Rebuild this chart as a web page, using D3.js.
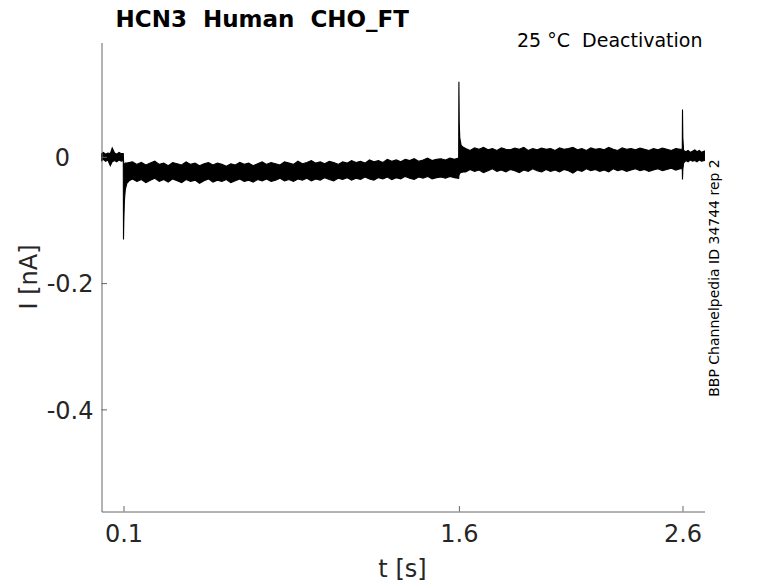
<!DOCTYPE html>
<html><head><meta charset="utf-8">
<script src="https://cdn.jsdelivr.net/npm/d3@7"></script>
<style>body{margin:0;background:#fff} svg text{font-family:"DejaVu Sans",sans-serif;fill:#262626;white-space:pre}</style>
</head><body>
<svg id="c" width="778" height="583"></svg>
<script>
// ---- data ----
const titleText = "HCN3  Human  CHO_FT";
const subtitleText = "25 \u00B0C  Deactivation";
const sideText = "BBP Channelpedia ID 34744 rep 2";
const xTicks = [0.1, 1.6, 2.6];
const yTicks = [0, -0.2, -0.4];
const xLabel = "t [s]";
const yLabel = "I [nA]";

// time stamps (s) of the trace envelope
const times = [
  0.002,0.01,0.02,0.03,0.041,0.0495,0.06,0.07,0.08,0.09,0.099,
  0.1,0.1015,0.104,0.108,0.115,0.125,
  0.14,0.16,0.18,0.20,0.22,0.24,0.26,0.28,0.30,0.32,
  0.34,0.36,0.38,0.40,0.42,0.44,0.46,0.48,0.50,0.52,
  0.54,0.56,0.58,0.60,0.62,0.64,0.66,0.68,0.70,0.72,
  0.74,0.76,0.78,0.80,0.82,0.84,0.86,0.88,0.90,0.92,
  0.94,0.96,0.98,1.00,1.02,1.04,1.06,1.08,1.10,1.12,
  1.14,1.16,1.18,1.20,1.22,1.24,1.26,1.28,1.30,1.32,
  1.34,1.36,1.38,1.40,1.42,1.44,1.46,1.48,1.50,1.52,
  1.54,1.56,1.58,1.599,
  1.6,1.6015,1.604,1.61,1.62,
  1.63,1.65,1.67,1.69,1.71,1.73,1.75,1.77,1.79,1.81,
  1.83,1.85,1.87,1.89,1.91,1.93,1.95,1.97,1.99,2.01,
  2.03,2.05,2.07,2.09,2.11,2.13,2.15,2.17,2.19,2.21,
  2.23,2.25,2.27,2.29,2.31,2.33,2.35,2.37,2.39,2.41,
  2.43,2.45,2.47,2.49,2.51,2.53,2.55,2.57,2.59,2.599,
  2.6,2.6015,2.605,2.615,2.625,2.635,2.645,2.655,2.665,2.675,2.685,2.698
];
// upper edge of the overlaid sweeps (nA)
const upper = [
  0.005,0.007,0.004,0.006,0.005,0.014,0.006,0.004,0.007,0.005,0.005,
  -0.004,-0.015,-0.012,-0.010,-0.010,-0.009,
  -0.008,-0.012,-0.009,-0.013,-0.010,-0.007,-0.012,-0.010,-0.014,-0.009,
  -0.011,-0.013,-0.008,-0.012,-0.010,-0.014,-0.011,-0.009,-0.013,-0.010,
  -0.012,-0.015,-0.011,-0.013,-0.009,-0.012,-0.010,-0.014,-0.011,-0.008,
  -0.012,-0.009,-0.011,-0.013,-0.008,-0.010,-0.012,-0.007,-0.011,-0.009,
  -0.006,-0.010,-0.008,-0.011,-0.007,-0.009,-0.012,-0.008,-0.010,-0.006,
  -0.009,-0.007,-0.010,-0.005,-0.008,-0.006,-0.009,-0.004,-0.007,-0.005,
  -0.008,-0.004,-0.006,-0.003,-0.007,-0.005,-0.002,-0.006,-0.004,-0.003,
  -0.005,-0.002,-0.004,-0.002,
  0.119,0.055,0.030,0.018,0.015,
  0.013,0.010,0.014,0.012,0.015,0.011,0.013,0.010,0.014,0.012,
  0.011,0.014,0.012,0.015,0.010,0.013,0.011,0.014,0.012,0.013,
  0.010,0.014,0.012,0.013,0.015,0.011,0.013,0.010,0.014,0.012,
  0.013,0.011,0.015,0.012,0.010,0.014,0.012,0.013,0.011,0.014,
  0.012,0.010,0.013,0.011,0.014,0.012,0.010,0.013,0.012,0.012,
  0.075,0.030,0.010,0.008,0.010,0.007,0.009,0.011,0.008,0.010,0.007,0.009
];
// lower edge of the overlaid sweeps (nA)
const lower = [
  -0.006,-0.004,-0.007,-0.005,-0.014,-0.008,-0.006,-0.008,-0.005,-0.007,-0.006,
  -0.131,-0.100,-0.070,-0.052,-0.042,-0.038,
  -0.035,-0.039,-0.036,-0.041,-0.037,-0.034,-0.039,-0.036,-0.040,-0.035,
  -0.038,-0.041,-0.036,-0.039,-0.037,-0.042,-0.038,-0.035,-0.040,-0.037,
  -0.039,-0.036,-0.041,-0.038,-0.035,-0.039,-0.037,-0.040,-0.036,-0.038,
  -0.035,-0.039,-0.037,-0.034,-0.038,-0.036,-0.039,-0.035,-0.037,-0.034,
  -0.038,-0.035,-0.037,-0.033,-0.036,-0.038,-0.034,-0.036,-0.033,-0.037,
  -0.034,-0.036,-0.032,-0.035,-0.037,-0.033,-0.035,-0.032,-0.036,-0.033,
  -0.035,-0.031,-0.034,-0.036,-0.032,-0.034,-0.031,-0.035,-0.033,-0.032,
  -0.034,-0.031,-0.033,-0.034,
  -0.030,-0.028,-0.026,-0.025,-0.024,
  -0.024,-0.020,-0.023,-0.021,-0.025,-0.022,-0.019,-0.023,-0.021,-0.024,
  -0.020,-0.022,-0.025,-0.021,-0.023,-0.019,-0.022,-0.024,-0.020,-0.023,
  -0.021,-0.024,-0.020,-0.022,-0.026,-0.021,-0.023,-0.019,-0.022,-0.020,
  -0.023,-0.021,-0.024,-0.019,-0.022,-0.020,-0.023,-0.021,-0.019,-0.022,
  -0.020,-0.023,-0.021,-0.019,-0.022,-0.020,-0.018,-0.021,-0.019,-0.019,
  -0.036,-0.020,-0.010,-0.006,-0.008,-0.005,-0.007,-0.006,-0.008,-0.005,-0.007,-0.006
];

// ---- drawing ----
const svg = d3.select("#c");
const x = d3.scaleLinear().domain([0.0016, 2.6984]).range([101.5, 704.5]);
const y = d3.scaleLinear().domain([-0.5617, 0.181]).range([511.5, 42.5]);
const axisColor = "#666";
const fmt = d => d === 0 ? "0" : d3.format(".1f")(d).replace("\u2212", "-");

const n = Math.min(times.length, upper.length, lower.length);
const pts = d3.range(n).map(i => ({t: times[i], u: upper[i], l: lower[i]}));
const area = d3.area().x(d => x(d.t)).y0(d => y(d.l)).y1(d => y(d.u));
svg.append("path").datum(pts).attr("d", area)
  .attr("fill", "#000").attr("stroke", "#000").attr("stroke-width", 1.1).attr("stroke-linejoin", "miter");

// x axis
const gx = svg.append("g").attr("transform", "translate(0,511.5)")
  .call(d3.axisBottom(x).tickValues(xTicks).tickFormat(d3.format(".1f")).tickSizeInner(-5.5).tickSizeOuter(0));
gx.select(".domain").attr("stroke", axisColor);
gx.selectAll(".tick line").attr("stroke", axisColor);
gx.selectAll(".tick text").attr("y", 30).attr("dy", 0).style("font-size", "24px").style("font-family", "DejaVu Sans").attr("fill", "#262626");

// y axis
const gy = svg.append("g").attr("transform", "translate(101.5,0)")
  .call(d3.axisLeft(y).tickValues(yTicks).tickFormat(fmt).tickSizeInner(-5.5).tickSizeOuter(0));
gy.select(".domain").attr("stroke", axisColor);
gy.selectAll(".tick line").attr("stroke", axisColor);
gy.selectAll(".tick text").attr("x", d => d === 0 ? -31.5 : -8).attr("dy", "0.36em")
  .style("font-size", "24px").style("font-family", "DejaVu Sans").attr("fill", "#262626");

// labels
svg.append("text").attr("x", 402.5).attr("y", 576.5).attr("text-anchor", "middle")
  .style("font-size", "24px").text(xLabel);
svg.append("text").attr("transform", "translate(37,277) rotate(-90)").attr("text-anchor", "middle")
  .style("font-size", "24px").text(yLabel);
svg.append("text").attr("x", 115.5).attr("y", 27).style("font-size", "23px").style("font-weight", "bold")
  .style("fill", "#000").text(titleText);
svg.append("text").attr("x", 702.5).attr("y", 47).attr("text-anchor", "end")
  .style("font-size", "19px").style("fill", "#000").text(subtitleText);
svg.append("text").attr("transform", "translate(719,278) rotate(-90)").attr("text-anchor", "middle")
  .style("font-size", "14px").style("fill", "#000").text(sideText);
</script>
</body></html>
